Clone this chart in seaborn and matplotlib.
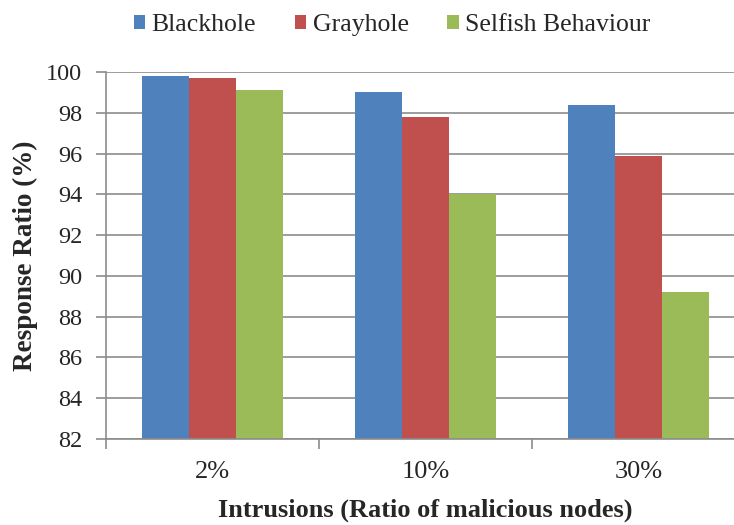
import pandas as pd
import matplotlib.pyplot as plt
import matplotlib.ticker as mticker
import seaborn as sns

# ── data ──────────────────────────────────────────────────────────────────────
categories = ["2%", "10%", "30%"]
series     = ["Blackhole", "Grayhole", "Selfish Behaviour"]
blackhole  = [99.8, 99.0, 98.4]
grayhole   = [99.7, 97.8, 95.9]
selfish    = [99.1, 94.0, 89.2]
y_ticks    = [82, 84, 86, 88, 90, 92, 94, 96, 98, 100]

colors = ["#4F81BD", "#C0504D", "#9BBB59"]
GRID   = "#8c8c8c"

df = pd.DataFrame({
    "Intrusion": categories * 3,
    "Attack": [s for s in series for _ in categories],
    "Ratio": blackhole + grayhole + selfish,
})

sns.set_theme(style="white")
plt.rcParams["font.family"] = ["Liberation Serif", "DejaVu Serif"]

fig = plt.figure(figsize=(7.34, 5.25), dpi=100)
# axes runs slightly past the right edge, as in the cropped original
ax = fig.add_axes([106 / 734, 86 / 525, 639 / 734, 367 / 525])

sns.barplot(data=df, x="Intrusion", y="Ratio", hue="Attack",
            order=categories, hue_order=series, palette=colors,
            width=0.66, saturation=1, edgecolor="none", ax=ax, legend=True)

ax.set_ylim(82, 100)
ax.set_xlim(-0.5, 2.5)
ax.set_yticks(y_ticks)
ax.yaxis.grid(True, color=GRID, linewidth=1.2)
ax.set_axisbelow(True)

for side in ["top", "right"]:
    ax.spines[side].set_visible(False)
for side in ["left", "bottom"]:
    ax.spines[side].set_color(GRID)
    ax.spines[side].set_linewidth(1.2)

ax.tick_params(axis="y", which="major", left=True, length=7, width=1.2,
               color=GRID, labelsize=17.5, pad=10)
ax.tick_params(axis="x", which="major", bottom=False, length=0,
               labelsize=19, pad=16)
ax.xaxis.set_minor_locator(mticker.FixedLocator([-0.5, 0.5, 1.5]))
ax.tick_params(axis="x", which="minor", bottom=True, length=7, width=1.2,
               color=GRID)

ax.set_ylabel("Response Ratio (%)", fontsize=19.5, fontweight="bold", labelpad=6)
ax.set_xlabel("Intrusions (Ratio of malicious nodes)", fontsize=19,
              fontweight="bold", labelpad=11)

leg = ax.legend(loc="center", bbox_to_anchor=(392 / 734, 1 - 25 / 525),
                bbox_transform=fig.transFigure, ncol=3, frameon=False,
                fontsize=18.5, handlelength=0.45, handleheight=0.45,
                handletextpad=0.25, columnspacing=1.5)

fig.savefig("out.png", dpi=100)
